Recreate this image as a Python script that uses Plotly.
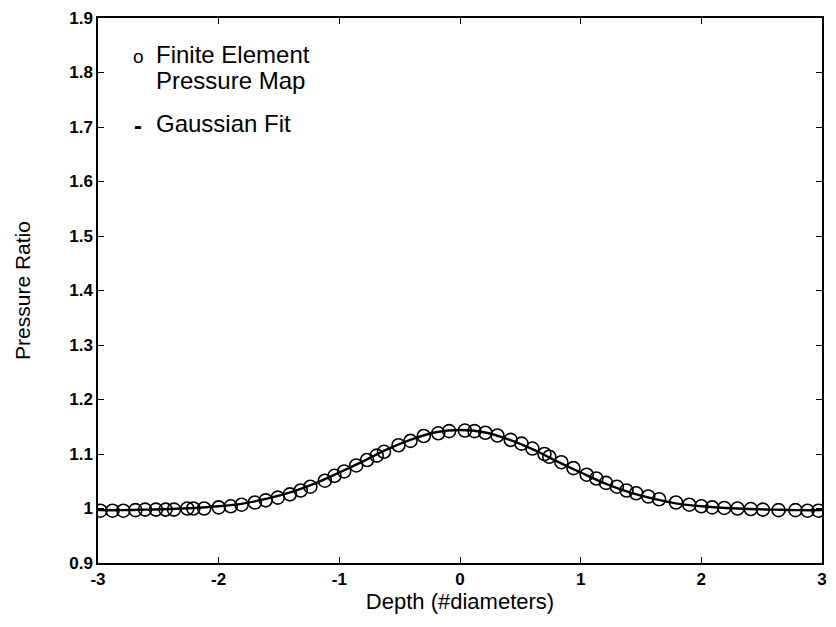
import plotly.graph_objects as go

# Finite element pressure map (circles)
fe_depth = [-2.98, -2.88, -2.79, -2.69, -2.61, -2.52, -2.44, -2.37, -2.26, -2.21,
            -2.12, -2.00, -1.90, -1.81, -1.70, -1.61, -1.51, -1.41, -1.32, -1.24,
            -1.12, -1.04, -0.96, -0.86, -0.77, -0.69, -0.63, -0.51, -0.41, -0.30,
            -0.18, -0.09, 0.04, 0.12, 0.21, 0.31, 0.42, 0.51, 0.60, 0.70,
            0.74, 0.84, 0.94, 1.05, 1.13, 1.21, 1.30, 1.38, 1.46, 1.56,
            1.65, 1.79, 1.90, 2.00, 2.09, 2.19, 2.30, 2.41, 2.51, 2.64,
            2.78, 2.88, 2.97]
fe_ratio = [0.996, 0.996, 0.996, 0.997, 0.998, 0.998, 0.998, 0.998, 1.000, 1.000,
            1.000, 1.002, 1.004, 1.007, 1.011, 1.015, 1.020, 1.026, 1.033, 1.040,
            1.051, 1.060, 1.068, 1.079, 1.089, 1.097, 1.104, 1.116, 1.124, 1.133,
            1.138, 1.142, 1.143, 1.142, 1.139, 1.134, 1.126, 1.119, 1.110, 1.100,
            1.095, 1.085, 1.074, 1.062, 1.055, 1.047, 1.040, 1.033, 1.028, 1.022,
            1.017, 1.011, 1.007, 1.004, 1.002, 1.001, 1.000, 0.999, 0.998, 0.997,
            0.997, 0.996, 0.996]

# Gaussian fit (line)
fit_depth = [-3.0, -2.8, -2.6, -2.4, -2.2, -2.0, -1.8, -1.6, -1.4, -1.2, -1.0,
             -0.8, -0.6, -0.4, -0.2, 0.0, 0.2, 0.4, 0.6, 0.8, 1.0,
             1.2, 1.4, 1.6, 1.8, 2.0, 2.2, 2.4, 2.6, 2.8, 3.0]
fit_ratio = [0.997, 0.997, 0.998, 0.999, 1.001, 1.004, 1.009, 1.018, 1.030, 1.046, 1.066,
             1.087, 1.109, 1.127, 1.140, 1.144, 1.140, 1.127, 1.109, 1.087, 1.066,
             1.046, 1.030, 1.018, 1.009, 1.004, 1.001, 0.999, 0.998, 0.997, 0.997]

x_ticks = [-3, -2, -1, 0, 1, 2, 3]
x_ticklabels = ["-3", "-2", "-1", "0", "1", "2", "3"]
y_ticks = [0.9, 1.0, 1.1, 1.2, 1.3, 1.4, 1.5, 1.6, 1.7, 1.8, 1.9]
y_ticklabels = ["0.9", "1", "1.1", "1.2", "1.3", "1.4", "1.5", "1.6", "1.7", "1.8", "1.9"]

legend_lines = ["Finite Element", "Pressure Map", "Gaussian Fit"]

FONT = "Liberation Sans, Arial, sans-serif"

fig = go.Figure()
fig.add_trace(go.Scatter(
    x=fit_depth, y=fit_ratio, mode="lines", name="Gaussian Fit",
    line=dict(color="black", width=2.4, shape="spline"),
    showlegend=False,
))
fig.add_trace(go.Scatter(
    x=fe_depth, y=fe_ratio, mode="markers", name="Finite Element Pressure Map",
    marker=dict(symbol="circle-open", size=13, color="black", line=dict(width=1.6, color="black")),
    showlegend=False,
))

axis_common = dict(
    showline=True, linecolor="black", linewidth=1.5, mirror="ticks",
    ticks="inside", ticklen=6, tickwidth=1.2, tickcolor="black",
    showgrid=False, zeroline=False,
    tickfont=dict(family=FONT, size=17, color="black", weight="bold"),
)

# Hand-made legend (top-left, inside the axes)
ann = [
    dict(x=0.0562, y=0.9296, text="o", size=19),
    dict(x=0.0775, y=0.9330, text=legend_lines[0], xanchor="left", size=24),
    dict(x=0.0775, y=0.8860, text=legend_lines[1], xanchor="left", size=24),
    dict(x=0.0549, y=0.8026, text="<b>-</b>", size=24),
    dict(x=0.0775, y=0.8071, text=legend_lines[2], xanchor="left", size=24),
]
annotations = []
for a in ann:
    annotations.append(dict(
        xref="paper", yref="paper", showarrow=False, yanchor="middle",
        xanchor=a.get("xanchor", "center"), x=a["x"], y=a["y"], text=a["text"],
        font=dict(family=FONT, color="black", size=a["size"])))

fig.update_layout(
    width=836, height=627,
    margin=dict(l=98, r=9, t=16, b=64),
    paper_bgcolor="white", plot_bgcolor="white",
    font=dict(family=FONT, color="black"),
    xaxis=dict(range=[-3, 3], tickvals=x_ticks, ticktext=x_ticklabels,
               title=dict(text="Depth (#diameters)", font=dict(size=22), standoff=3),
               **axis_common),
    yaxis=dict(range=[0.9, 1.9], tickvals=y_ticks, ticktext=y_ticklabels,
               title=dict(text="Pressure Ratio", font=dict(size=21), standoff=33),
               **axis_common),
    annotations=annotations,
    showlegend=False,
)

fig.write_html("out.html")
